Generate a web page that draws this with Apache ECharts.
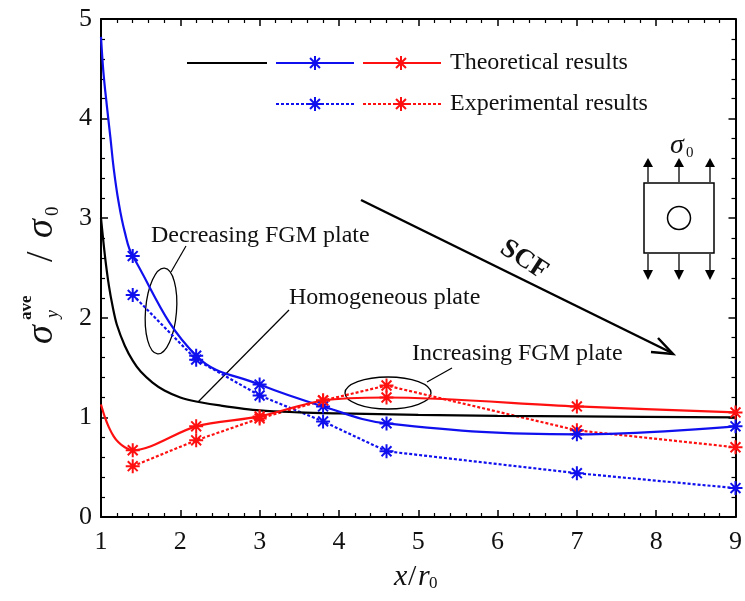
<!DOCTYPE html>
<html><head><meta charset="utf-8">
<script src="https://cdn.jsdelivr.net/npm/echarts@6/dist/echarts.min.js"></script>
<style>html,body{margin:0;padding:0;background:#fff}#c{width:745px;height:601px}</style>
</head><body><div id="c"></div>
<script>
// ---- data ----
const markerX   = [1.4, 2.2, 3.0, 3.8, 4.6, 7.0, 9.0];
const blueExpY  = [2.23, 1.58, 1.22, 0.96, 0.66, 0.44, 0.29];
const redExpY   = [0.51, 0.77, 0.99, 1.17, 1.32, 0.87, 0.70];
const blueTheoX = [1.0, 1.03, 1.075, 1.12, 1.16, 1.22, 1.3, 1.4, 2.2, 3.0, 3.8, 4.6, 7.0, 9.0];
const blueTheoY = [4.82, 4.47, 4.12, 3.8, 3.5, 3.17, 2.86, 2.62, 1.62, 1.33, 1.11, 0.94, 0.83, 0.91];
const redTheoX  = [1.0, 1.05, 1.1, 1.16, 1.22, 1.3, 1.4, 2.2, 3.0, 3.8, 4.6, 7.0, 9.0];
const redTheoY  = [1.13, 1.0, 0.9, 0.81, 0.75, 0.70, 0.67, 0.91, 1.01, 1.17, 1.20, 1.11, 1.05];
const homoX     = [1.0, 1.05, 1.1, 1.15, 1.2, 1.3, 1.4, 1.5, 1.65, 1.8, 2.0, 2.2, 2.5, 3.0, 3.5, 4.0, 5.0, 6.0, 7.0, 9.0];
const homoY     = [3.0, 2.62, 2.32, 2.1, 1.93, 1.72, 1.57, 1.46, 1.35, 1.27, 1.2, 1.16, 1.12, 1.07, 1.05, 1.04, 1.025, 1.015, 1.01, 1.0];
const xMin = 1, xMax = 9, xStep = 1;
const yMin = 0, yMax = 5, yStep = 1;
const legendTexts = ['Theoretical results', 'Experimental results'];
const annTexts = ['Decreasing FGM plate', 'Homogeneous plate', 'Increasing FGM plate', 'SCF'];

const BLUE = '#1010ee', RED = '#ff1010', BLACK = '#000';
const FONT = 'Liberation Serif';
const STAR = 'path://M10 0L10 20M0 10L20 10M2.93 2.93L17.07 17.07M2.93 17.07L17.07 2.93';

function theoData(xs, ys) {
  return xs.map((x, i) => markerX.indexOf(x) >= 0 ? [x, ys[i]] : {value: [x, ys[i]], symbol: 'none'});
}
function expData(ys) { return markerX.map((x, i) => [x, ys[i]]); }

function seriesOf(name, data, color, dotted, smooth) {
  return {
    name, type: 'line', data, smooth: smooth,
    symbol: STAR, symbolSize: 14, showSymbol: true, showAllSymbol: true,
    lineStyle: {color, width: 2.2, type: dotted ? [3, 2] : 'solid'},
    itemStyle: {color, borderColor: color, borderWidth: 2},
    z: dotted ? 3 : 4, animation: false, silent: true
  };
}

// ---- helpers for annotation graphics ----
function ln(x1, y1, x2, y2, st) {
  return {type: 'line', shape: {x1, y1, x2, y2}, style: Object.assign({stroke: BLACK, lineWidth: 1.4}, st || {}), silent: true};
}
function starG(cx, cy, color) {
  const r = 7, d = r * 0.7071, st = {stroke: color, lineWidth: 2};
  return {type: 'group', children: [
    ln(cx - r, cy, cx + r, cy, st), ln(cx, cy - r, cx, cy + r, st),
    ln(cx - d, cy - d, cx + d, cy + d, st), ln(cx - d, cy + d, cx + d, cy - d, st)]};
}
function txt(x, y, text, o) {
  o = o || {};
  return {type: 'text', x, y, rotation: o.rotation || 0, silent: true,
    style: {text, fill: '#111', fontFamily: FONT, fontSize: o.size || 24,
      fontStyle: o.italic ? 'italic' : 'normal', fontWeight: o.bold ? 'bold' : 'normal',
      align: o.align || 'left', verticalAlign: 'middle'}};
}
function tri(pts) { return {type: 'polygon', shape: {points: pts}, style: {fill: BLACK}, silent: true}; }

const graphics = [];
// legend
graphics.push(ln(187, 63, 267, 63, {lineWidth: 2.2}));
graphics.push(ln(276, 63, 354, 63, {stroke: BLUE, lineWidth: 2.2}), starG(315, 63, BLUE));
graphics.push(ln(363, 63, 441, 63, {stroke: RED, lineWidth: 2.2}), starG(401, 63, RED));
graphics.push(txt(450, 63, legendTexts[0]));
graphics.push(ln(276, 104, 354, 104, {stroke: BLUE, lineWidth: 2.2, lineDash: [3, 2]}), starG(315, 104, BLUE));
graphics.push(ln(363, 104, 441, 104, {stroke: RED, lineWidth: 2.2, lineDash: [3, 2]}), starG(401, 104, RED));
graphics.push(txt(450, 104, legendTexts[1]));
// annotations
graphics.push(txt(151, 236, annTexts[0]));
graphics.push({type: 'ellipse', x: 161, y: 311, rotation: -0.08, shape: {cx: 0, cy: 0, rx: 15.5, ry: 43},
  style: {fill: 'none', stroke: BLACK, lineWidth: 1.3}, silent: true});
graphics.push(ln(171, 272, 186, 246, {lineWidth: 1.2}));
graphics.push(txt(289, 298, annTexts[1]));
graphics.push(ln(198, 402, 289, 310, {lineWidth: 1.2}));
graphics.push(txt(412, 354, annTexts[2]));
graphics.push({type: 'ellipse', x: 388, y: 393, rotation: 0, shape: {cx: 0, cy: 0, rx: 43, ry: 16},
  style: {fill: 'none', stroke: BLACK, lineWidth: 1.3}, silent: true});
graphics.push(ln(427, 382, 452, 368, {lineWidth: 1.2}));
// SCF arrow
graphics.push(ln(361, 200, 672, 353, {lineWidth: 2.5}));
graphics.push({type: 'polyline', shape: {points: [[651, 352], [673, 354], [658, 338]]},
  style: {stroke: BLACK, lineWidth: 2.5, fill: 'none'}, silent: true});
graphics.push(txt(524, 260, annTexts[3], {bold: true, size: 27, align: 'center', rotation: -0.58}));
// plate diagram
graphics.push({type: 'rect', shape: {x: 644, y: 183, width: 70, height: 70}, style: {fill: 'none', stroke: BLACK, lineWidth: 1.5}, silent: true});
graphics.push({type: 'circle', shape: {cx: 679, cy: 218, r: 11.5}, style: {fill: 'none', stroke: BLACK, lineWidth: 1.5}, silent: true});
[648, 679, 710].forEach(ax => {
  graphics.push(ln(ax, 182, ax, 166, {lineWidth: 1.3}), tri([[ax - 5, 167], [ax + 5, 167], [ax, 158]]));
  graphics.push(ln(ax, 254, ax, 271, {lineWidth: 1.3}), tri([[ax - 5, 270], [ax + 5, 270], [ax, 280]]));
});
graphics.push(txt(670, 146, 'σ', {italic: true, size: 28}));
graphics.push(txt(686, 153, '0', {size: 15}));
// axis titles
graphics.push(txt(394, 577, 'x', {italic: true, size: 30}));
graphics.push(txt(408, 577, '/', {size: 30}));
graphics.push(txt(418, 577, 'r', {italic: true, size: 30}));
graphics.push(txt(429, 584, '0', {size: 17}));
graphics.push({type: 'group', x: 42, y: 270, rotation: Math.PI / 2, children: [
  txt(-74, 0, 'σ', {italic: true, size: 38}),
  txt(-50, -15, 'ave', {size: 17, bold: true}),
  txt(-48, 11, 'y', {italic: true, size: 18}),
  txt(8, 0, '/', {size: 38}),
  txt(32, 0, 'σ', {italic: true, size: 38}),
  txt(54, 11, '0', {size: 19})
]});

const axisCommon = {
  type: 'value', axisLine: {show: true, onZero: false, lineStyle: {color: BLACK, width: 2}},
  axisTick: {show: true, inside: true, length: 7, lineStyle: {color: BLACK, width: 1.5}},
  minorTick: {show: true, splitNumber: 5, length: 4, lineStyle: {color: BLACK, width: 1.2}},
  splitLine: {show: false}, minorSplitLine: {show: false}
};
const lab = {fontFamily: FONT, fontSize: 26, color: '#111'};

const chart = echarts.init(document.getElementById('c'), null, {renderer: 'canvas'});
chart.setOption({
  animation: false,
  backgroundColor: '#fff',
  grid: {left: 101, right: 3, top: 19, bottom: 84, containLabel: false},
  xAxis: [
    Object.assign({}, axisCommon, {min: xMin, max: xMax, interval: xStep, position: 'bottom', axisLabel: Object.assign({margin: 12}, lab)}),
    Object.assign({}, axisCommon, {min: xMin, max: xMax, interval: xStep, position: 'top', axisLabel: {show: false}})
  ],
  yAxis: [
    Object.assign({}, axisCommon, {min: yMin, max: yMax, interval: yStep, position: 'left', axisLabel: Object.assign({margin: 9}, lab)}),
    Object.assign({}, axisCommon, {min: yMin, max: yMax, interval: yStep, position: 'right', axisLabel: {show: false}})
  ],
  series: [
    Object.assign(seriesOf('Homogeneous', homoX.map((x, i) => [x, homoY[i]]), BLACK, false, 0.3), {symbol: 'none'}),
    seriesOf('Blue theory', theoData(blueTheoX, blueTheoY), BLUE, false, 0.4),
    seriesOf('Red theory', theoData(redTheoX, redTheoY), RED, false, 0.3),
    seriesOf('Blue experiment', expData(blueExpY), BLUE, true, false),
    seriesOf('Red experiment', expData(redExpY), RED, true, false)
  ],
  graphic: graphics
});
</script></body></html>
